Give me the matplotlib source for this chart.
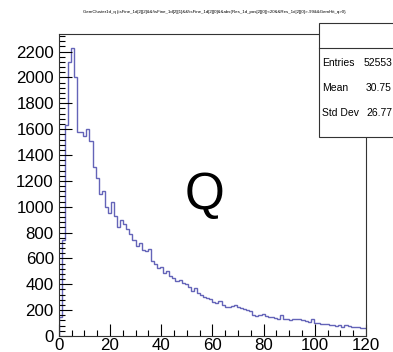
import numpy as np
import matplotlib
matplotlib.use("Agg")
import matplotlib.pyplot as plt
from matplotlib.ticker import MultipleLocator
from matplotlib.patches import Rectangle
from matplotlib.lines import Line2D

plt.rcParams['font.family'] = ['Liberation Sans', 'DejaVu Sans']

# Histogram of cluster charge: 100 bins over [0, 120]
x_min, x_max = 0.0, 120.0
counts = [
    150, 740, 1630, 2120, 2225, 2000, 1580, 1580, 1545, 1605,
    1510, 1305, 1220, 1100, 1120, 1000, 950, 1035, 930, 840,
    895, 865, 830, 790, 740, 700, 722, 665, 655, 675,
    580, 560, 525, 530, 490, 500, 465, 445, 425, 435,
    410, 400, 380, 350, 375, 335, 320, 305, 295, 285,
    265, 255, 268, 240, 222, 228, 232, 240, 225, 218,
    212, 205, 195, 165, 158, 160, 168, 152, 150, 145,
    138, 135, 160, 135, 128, 122, 128, 132, 130, 125,
    118, 110, 128, 104, 100, 96, 92, 92, 84, 82,
    78, 84, 72, 82, 78, 72, 70, 66, 63, 60,
]
title = ("GemCluster1d_q {isFine_1d[2][2]&&!isFine_1d[2][1]&&!isFine_1d[2][0]"
         "&&abs(Res_1d_pos[2][0])<20&&Res_1d[2][0]>-99&&GemHit_q>0}")
stat_names = ["Entries", "Mean", "Std Dev"]
stat_values = ["52553", "30.75", "26.77"]
label_text = "Q"

W, H = 393, 352
fig = plt.figure(figsize=(W / 100, H / 100), dpi=100)
fig.patch.set_facecolor("white")

def fx(px):
    return px / W

def fy(py):
    return 1 - py / H

ax = fig.add_axes([fx(58.7), fy(336), fx(366) - fx(58.7), fy(34) - fy(336)])
edges = np.linspace(x_min, x_max, len(counts) + 1)
line_color = "#6464b8"
ax.stairs(counts, edges, color=line_color, linewidth=1.0, baseline=None)
# close the first bin down to zero like a filled outline
ax.vlines(edges[0], 0, counts[0], color=line_color, linewidth=1.0)

ax.set_xlim(x_min, x_max)
ax.set_ylim(0, 1.05 * max(counts))
ax.xaxis.set_major_locator(MultipleLocator(20))
ax.xaxis.set_minor_locator(MultipleLocator(5))
ax.yaxis.set_major_locator(MultipleLocator(200))
ax.yaxis.set_minor_locator(MultipleLocator(40))
ax.tick_params(which="both", direction="in", top=False, right=False,
               labelsize=12.2, colors="black", width=0.8)
ax.tick_params(which="major", length=9)
ax.tick_params(which="minor", length=4.5)
ax.tick_params(axis="x", pad=1.5)
ax.tick_params(axis="y", pad=3.5)
for s in ax.spines.values():
    s.set_linewidth(0.8)
    s.set_color("#333333")

ax.text(0.475, 0.465, label_text, transform=ax.transAxes, fontsize=37,
        ha="center", va="center")

fig.text(fx(214), fy(12), title, fontsize=3.2, ha="center", va="center")

# statistics box
box = Rectangle((fx(319), fy(137)), fx(420) - fx(319), fy(23) - fy(137),
                transform=fig.transFigure, facecolor="white",
                edgecolor="#333333", linewidth=0.8, zorder=5)
fig.add_artist(box)
fig.add_artist(Line2D([fx(319), fx(420)], [fy(48), fy(48)],
                      transform=fig.transFigure, color="#333333",
                      linewidth=0.8, zorder=6))
for i, (n, v) in enumerate(zip(stat_names, stat_values)):
    yy = fy(63 + 25 * i)
    fig.text(fx(322), yy, n, fontsize=7.5, ha="left", va="center", zorder=7)
    fig.text(fx(392), yy, v, fontsize=7.5, ha="right", va="center", zorder=7)

fig.savefig("out.png", dpi=100)
